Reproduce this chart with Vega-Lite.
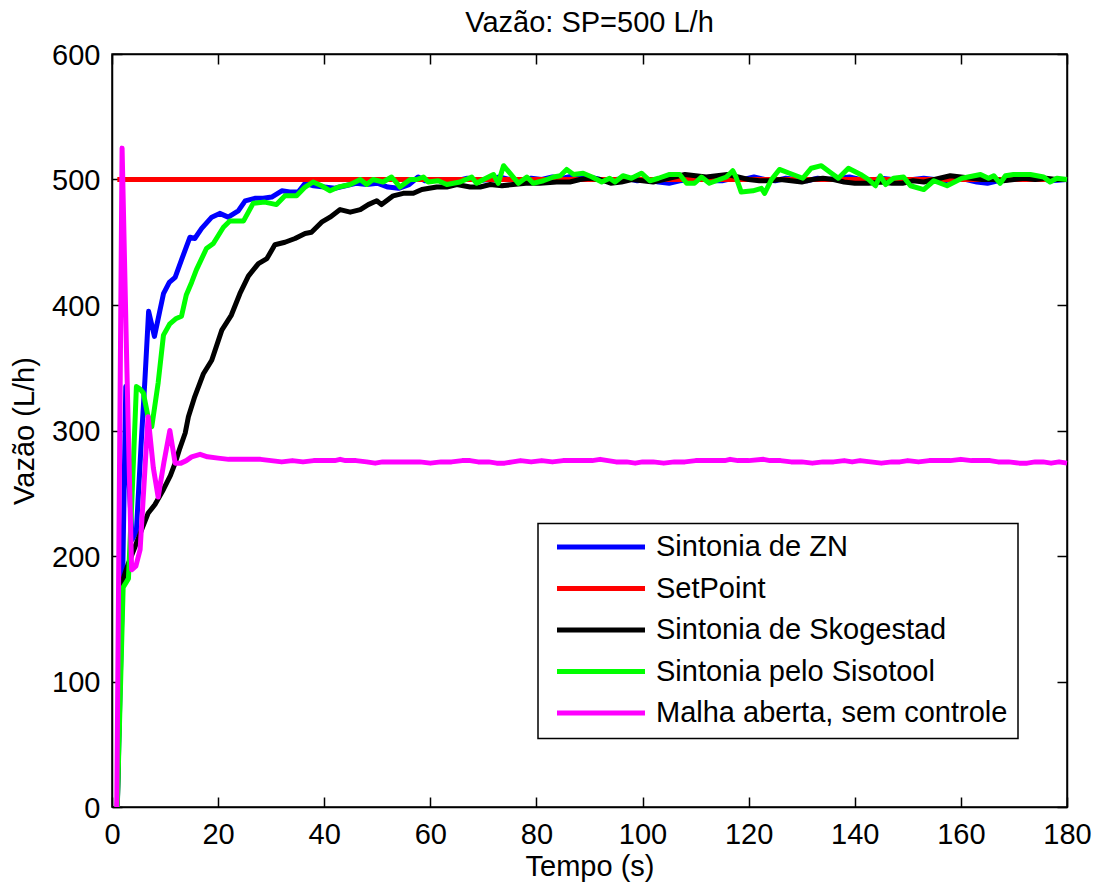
{
"$schema":"https://vega.github.io/schema/vega-lite/v6.json",
"width":955,"height":753,
"autosize":"none",
"padding":{"left":112,"top":54,"right":35,"bottom":84},
"background":"white",
"title":{"text":"Vazão: SP=500 L/h","fontSize":29,"font":"Liberation Sans","fontWeight":"normal","color":"black","baseline":"alphabetic","offset":-20,"anchor":"middle"},
"data":{"values":[
{"s":"Sintonia de ZN","t":1,"v":0},{"s":"Sintonia de ZN","t":2,"v":180},{"s":"Sintonia de ZN","t":2.6,"v":335},{"s":"Sintonia de ZN","t":3.2,"v":260},{"s":"Sintonia de ZN","t":3.8,"v":213},{"s":"Sintonia de ZN","t":4.6,"v":220},{"s":"Sintonia de ZN","t":5.5,"v":290},{"s":"Sintonia de ZN","t":6.2,"v":340},{"s":"Sintonia de ZN","t":6.9,"v":395},{"s":"Sintonia de ZN","t":8,"v":375},{"s":"Sintonia de ZN","t":9,"v":395},{"s":"Sintonia de ZN","t":9.7,"v":409},{"s":"Sintonia de ZN","t":10.8,"v":418},{"s":"Sintonia de ZN","t":11.9,"v":422},{"s":"Sintonia de ZN","t":13.1,"v":436},{"s":"Sintonia de ZN","t":14.7,"v":454},{"s":"Sintonia de ZN","t":15.6,"v":453},{"s":"Sintonia de ZN","t":16.9,"v":461},{"s":"Sintonia de ZN","t":18.8,"v":470},{"s":"Sintonia de ZN","t":20.3,"v":473},{"s":"Sintonia de ZN","t":21.9,"v":470},{"s":"Sintonia de ZN","t":23.8,"v":475},{"s":"Sintonia de ZN","t":25.1,"v":483},{"s":"Sintonia de ZN","t":26.9,"v":485},{"s":"Sintonia de ZN","t":28.5,"v":485},{"s":"Sintonia de ZN","t":30.1,"v":486},{"s":"Sintonia de ZN","t":32,"v":491},{"s":"Sintonia de ZN","t":33.5,"v":490},{"s":"Sintonia de ZN","t":35.1,"v":490},{"s":"Sintonia de ZN","t":36.4,"v":497},{"s":"Sintonia de ZN","t":38,"v":495},{"s":"Sintonia de ZN","t":40,"v":494},{"s":"Sintonia de ZN","t":42,"v":493},{"s":"Sintonia de ZN","t":44,"v":495},{"s":"Sintonia de ZN","t":46,"v":497},{"s":"Sintonia de ZN","t":48,"v":496},{"s":"Sintonia de ZN","t":50,"v":497},{"s":"Sintonia de ZN","t":52,"v":494},{"s":"Sintonia de ZN","t":54,"v":493},{"s":"Sintonia de ZN","t":56,"v":496},{"s":"Sintonia de ZN","t":57.7,"v":502},{"s":"Sintonia de ZN","t":59,"v":499},{"s":"Sintonia de ZN","t":61,"v":500},{"s":"Sintonia de ZN","t":63,"v":498},{"s":"Sintonia de ZN","t":65,"v":499},{"s":"Sintonia de ZN","t":67,"v":501},{"s":"Sintonia de ZN","t":69,"v":499},{"s":"Sintonia de ZN","t":71,"v":500},{"s":"Sintonia de ZN","t":73,"v":502},{"s":"Sintonia de ZN","t":75,"v":500},{"s":"Sintonia de ZN","t":77,"v":499},{"s":"Sintonia de ZN","t":79,"v":501},{"s":"Sintonia de ZN","t":81,"v":500},{"s":"Sintonia de ZN","t":83,"v":502},{"s":"Sintonia de ZN","t":85,"v":501},{"s":"Sintonia de ZN","t":87,"v":503},{"s":"Sintonia de ZN","t":89,"v":503},{"s":"Sintonia de ZN","t":91,"v":501},{"s":"Sintonia de ZN","t":93,"v":499},{"s":"Sintonia de ZN","t":95,"v":500},{"s":"Sintonia de ZN","t":97,"v":501},{"s":"Sintonia de ZN","t":99,"v":499},{"s":"Sintonia de ZN","t":101,"v":500},{"s":"Sintonia de ZN","t":103,"v":498},{"s":"Sintonia de ZN","t":105,"v":497},{"s":"Sintonia de ZN","t":107,"v":499},{"s":"Sintonia de ZN","t":109,"v":500},{"s":"Sintonia de ZN","t":111,"v":501},{"s":"Sintonia de ZN","t":113,"v":499},{"s":"Sintonia de ZN","t":115,"v":499},{"s":"Sintonia de ZN","t":117,"v":501},{"s":"Sintonia de ZN","t":119,"v":500},{"s":"Sintonia de ZN","t":121,"v":502},{"s":"Sintonia de ZN","t":123,"v":500},{"s":"Sintonia de ZN","t":125,"v":499},{"s":"Sintonia de ZN","t":127,"v":501},{"s":"Sintonia de ZN","t":129,"v":500},{"s":"Sintonia de ZN","t":131,"v":499},{"s":"Sintonia de ZN","t":133,"v":501},{"s":"Sintonia de ZN","t":135,"v":500},{"s":"Sintonia de ZN","t":137,"v":501},{"s":"Sintonia de ZN","t":139,"v":502},{"s":"Sintonia de ZN","t":141,"v":500},{"s":"Sintonia de ZN","t":143,"v":499},{"s":"Sintonia de ZN","t":145,"v":501},{"s":"Sintonia de ZN","t":147,"v":500},{"s":"Sintonia de ZN","t":149,"v":499},{"s":"Sintonia de ZN","t":151,"v":500},{"s":"Sintonia de ZN","t":153,"v":501},{"s":"Sintonia de ZN","t":155,"v":500},{"s":"Sintonia de ZN","t":157,"v":499},{"s":"Sintonia de ZN","t":159,"v":501},{"s":"Sintonia de ZN","t":161,"v":500},{"s":"Sintonia de ZN","t":163,"v":498},{"s":"Sintonia de ZN","t":165,"v":497},{"s":"Sintonia de ZN","t":167,"v":499},{"s":"Sintonia de ZN","t":169,"v":500},{"s":"Sintonia de ZN","t":171,"v":501},{"s":"Sintonia de ZN","t":173,"v":500},{"s":"Sintonia de ZN","t":175,"v":501},{"s":"Sintonia de ZN","t":177,"v":499},{"s":"Sintonia de ZN","t":180,"v":500},
{"s":"SetPoint","t":1,"v":500},{"s":"SetPoint","t":180,"v":500},
{"s":"Sintonia de Skogestad","t":1,"v":0},{"s":"Sintonia de Skogestad","t":1.8,"v":178},{"s":"Sintonia de Skogestad","t":3,"v":193},{"s":"Sintonia de Skogestad","t":4.3,"v":207},{"s":"Sintonia de Skogestad","t":5.5,"v":220},{"s":"Sintonia de Skogestad","t":6.8,"v":234},{"s":"Sintonia de Skogestad","t":8.1,"v":241},{"s":"Sintonia de Skogestad","t":9.7,"v":253},{"s":"Sintonia de Skogestad","t":11,"v":264},{"s":"Sintonia de Skogestad","t":11.9,"v":274},{"s":"Sintonia de Skogestad","t":12.8,"v":286},{"s":"Sintonia de Skogestad","t":13.8,"v":298},{"s":"Sintonia de Skogestad","t":14.4,"v":311},{"s":"Sintonia de Skogestad","t":15.6,"v":327},{"s":"Sintonia de Skogestad","t":17.2,"v":345},{"s":"Sintonia de Skogestad","t":18.8,"v":356},{"s":"Sintonia de Skogestad","t":20.7,"v":380},{"s":"Sintonia de Skogestad","t":22.5,"v":392},{"s":"Sintonia de Skogestad","t":24.1,"v":409},{"s":"Sintonia de Skogestad","t":25.7,"v":423},{"s":"Sintonia de Skogestad","t":27.6,"v":433},{"s":"Sintonia de Skogestad","t":29.2,"v":437},{"s":"Sintonia de Skogestad","t":30.7,"v":448},{"s":"Sintonia de Skogestad","t":32.6,"v":450},{"s":"Sintonia de Skogestad","t":34.5,"v":453},{"s":"Sintonia de Skogestad","t":36.4,"v":457},{"s":"Sintonia de Skogestad","t":37.6,"v":458},{"s":"Sintonia de Skogestad","t":39.5,"v":466},{"s":"Sintonia de Skogestad","t":41.1,"v":470},{"s":"Sintonia de Skogestad","t":43,"v":476},{"s":"Sintonia de Skogestad","t":44.9,"v":474},{"s":"Sintonia de Skogestad","t":46.8,"v":476},{"s":"Sintonia de Skogestad","t":48.3,"v":480},{"s":"Sintonia de Skogestad","t":49.9,"v":483},{"s":"Sintonia de Skogestad","t":50.8,"v":480},{"s":"Sintonia de Skogestad","t":53,"v":487},{"s":"Sintonia de Skogestad","t":54.9,"v":489},{"s":"Sintonia de Skogestad","t":56.8,"v":489},{"s":"Sintonia de Skogestad","t":58.4,"v":492},{"s":"Sintonia de Skogestad","t":61.2,"v":494},{"s":"Sintonia de Skogestad","t":63.1,"v":494},{"s":"Sintonia de Skogestad","t":65,"v":496},{"s":"Sintonia de Skogestad","t":67.5,"v":494},{"s":"Sintonia de Skogestad","t":69.4,"v":494},{"s":"Sintonia de Skogestad","t":71.3,"v":496},{"s":"Sintonia de Skogestad","t":73.5,"v":495},{"s":"Sintonia de Skogestad","t":75.6,"v":496},{"s":"Sintonia de Skogestad","t":78,"v":497},{"s":"Sintonia de Skogestad","t":80.7,"v":497},{"s":"Sintonia de Skogestad","t":83.8,"v":498},{"s":"Sintonia de Skogestad","t":86.3,"v":498},{"s":"Sintonia de Skogestad","t":88.2,"v":500},{"s":"Sintonia de Skogestad","t":90,"v":501},{"s":"Sintonia de Skogestad","t":92,"v":500},{"s":"Sintonia de Skogestad","t":94,"v":497},{"s":"Sintonia de Skogestad","t":96,"v":498},{"s":"Sintonia de Skogestad","t":98,"v":500},{"s":"Sintonia de Skogestad","t":100,"v":499},{"s":"Sintonia de Skogestad","t":102,"v":498},{"s":"Sintonia de Skogestad","t":104,"v":500},{"s":"Sintonia de Skogestad","t":106,"v":502},{"s":"Sintonia de Skogestad","t":108,"v":504},{"s":"Sintonia de Skogestad","t":110,"v":503},{"s":"Sintonia de Skogestad","t":112,"v":502},{"s":"Sintonia de Skogestad","t":114,"v":503},{"s":"Sintonia de Skogestad","t":116,"v":504},{"s":"Sintonia de Skogestad","t":118,"v":502},{"s":"Sintonia de Skogestad","t":120,"v":500},{"s":"Sintonia de Skogestad","t":122,"v":499},{"s":"Sintonia de Skogestad","t":124,"v":499},{"s":"Sintonia de Skogestad","t":126,"v":500},{"s":"Sintonia de Skogestad","t":128,"v":499},{"s":"Sintonia de Skogestad","t":130,"v":498},{"s":"Sintonia de Skogestad","t":132,"v":500},{"s":"Sintonia de Skogestad","t":134,"v":501},{"s":"Sintonia de Skogestad","t":136,"v":500},{"s":"Sintonia de Skogestad","t":138,"v":498},{"s":"Sintonia de Skogestad","t":140,"v":497},{"s":"Sintonia de Skogestad","t":142.6,"v":497},{"s":"Sintonia de Skogestad","t":145,"v":498},{"s":"Sintonia de Skogestad","t":147,"v":497},{"s":"Sintonia de Skogestad","t":149,"v":497},{"s":"Sintonia de Skogestad","t":151,"v":499},{"s":"Sintonia de Skogestad","t":153,"v":498},{"s":"Sintonia de Skogestad","t":155,"v":500},{"s":"Sintonia de Skogestad","t":157,"v":502},{"s":"Sintonia de Skogestad","t":158,"v":503},{"s":"Sintonia de Skogestad","t":160,"v":502},{"s":"Sintonia de Skogestad","t":162,"v":501},{"s":"Sintonia de Skogestad","t":164,"v":500},{"s":"Sintonia de Skogestad","t":166,"v":500},{"s":"Sintonia de Skogestad","t":168,"v":499},{"s":"Sintonia de Skogestad","t":170,"v":500},{"s":"Sintonia de Skogestad","t":172,"v":501},{"s":"Sintonia de Skogestad","t":174,"v":500},{"s":"Sintonia de Skogestad","t":176,"v":501},{"s":"Sintonia de Skogestad","t":178,"v":500},{"s":"Sintonia de Skogestad","t":180,"v":500},
{"s":"Sintonia pelo Sisotool","t":1,"v":0},{"s":"Sintonia pelo Sisotool","t":2.1,"v":175},{"s":"Sintonia pelo Sisotool","t":3.1,"v":182},{"s":"Sintonia pelo Sisotool","t":3.8,"v":250},{"s":"Sintonia pelo Sisotool","t":4.6,"v":335},{"s":"Sintonia pelo Sisotool","t":5.3,"v":333},{"s":"Sintonia pelo Sisotool","t":5.9,"v":330},{"s":"Sintonia pelo Sisotool","t":6.8,"v":311},{"s":"Sintonia pelo Sisotool","t":7.5,"v":303},{"s":"Sintonia pelo Sisotool","t":8.7,"v":338},{"s":"Sintonia pelo Sisotool","t":9.7,"v":376},{"s":"Sintonia pelo Sisotool","t":10.9,"v":385},{"s":"Sintonia pelo Sisotool","t":12,"v":389},{"s":"Sintonia pelo Sisotool","t":13.1,"v":391},{"s":"Sintonia pelo Sisotool","t":14,"v":408},{"s":"Sintonia pelo Sisotool","t":15,"v":418},{"s":"Sintonia pelo Sisotool","t":15.9,"v":428},{"s":"Sintonia pelo Sisotool","t":17.8,"v":445},{"s":"Sintonia pelo Sisotool","t":19.1,"v":449},{"s":"Sintonia pelo Sisotool","t":21,"v":462},{"s":"Sintonia pelo Sisotool","t":22.2,"v":467},{"s":"Sintonia pelo Sisotool","t":24.8,"v":467},{"s":"Sintonia pelo Sisotool","t":26.6,"v":481},{"s":"Sintonia pelo Sisotool","t":28.8,"v":482},{"s":"Sintonia pelo Sisotool","t":31,"v":480},{"s":"Sintonia pelo Sisotool","t":32.6,"v":487},{"s":"Sintonia pelo Sisotool","t":34.8,"v":487},{"s":"Sintonia pelo Sisotool","t":36.4,"v":494},{"s":"Sintonia pelo Sisotool","t":37.9,"v":498},{"s":"Sintonia pelo Sisotool","t":39.5,"v":495},{"s":"Sintonia pelo Sisotool","t":41.1,"v":491},{"s":"Sintonia pelo Sisotool","t":42.7,"v":494},{"s":"Sintonia pelo Sisotool","t":44.9,"v":496},{"s":"Sintonia pelo Sisotool","t":46.8,"v":500},{"s":"Sintonia pelo Sisotool","t":48,"v":496},{"s":"Sintonia pelo Sisotool","t":49.2,"v":500},{"s":"Sintonia pelo Sisotool","t":51.1,"v":498},{"s":"Sintonia pelo Sisotool","t":52.7,"v":502},{"s":"Sintonia pelo Sisotool","t":54.3,"v":494},{"s":"Sintonia pelo Sisotool","t":56.2,"v":500},{"s":"Sintonia pelo Sisotool","t":57.4,"v":500},{"s":"Sintonia pelo Sisotool","t":58.7,"v":502},{"s":"Sintonia pelo Sisotool","t":59.6,"v":498},{"s":"Sintonia pelo Sisotool","t":61.5,"v":499},{"s":"Sintonia pelo Sisotool","t":63.1,"v":496},{"s":"Sintonia pelo Sisotool","t":65.6,"v":498},{"s":"Sintonia pelo Sisotool","t":67.8,"v":502},{"s":"Sintonia pelo Sisotool","t":68.7,"v":497},{"s":"Sintonia pelo Sisotool","t":70,"v":500},{"s":"Sintonia pelo Sisotool","t":71.9,"v":504},{"s":"Sintonia pelo Sisotool","t":72.8,"v":497},{"s":"Sintonia pelo Sisotool","t":73.8,"v":511},{"s":"Sintonia pelo Sisotool","t":75,"v":505},{"s":"Sintonia pelo Sisotool","t":76.6,"v":497},{"s":"Sintonia pelo Sisotool","t":78.2,"v":502},{"s":"Sintonia pelo Sisotool","t":79.4,"v":497},{"s":"Sintonia pelo Sisotool","t":81.3,"v":499},{"s":"Sintonia pelo Sisotool","t":83.2,"v":502},{"s":"Sintonia pelo Sisotool","t":84.5,"v":503},{"s":"Sintonia pelo Sisotool","t":85.7,"v":508},{"s":"Sintonia pelo Sisotool","t":87,"v":504},{"s":"Sintonia pelo Sisotool","t":88.8,"v":505},{"s":"Sintonia pelo Sisotool","t":90.5,"v":502},{"s":"Sintonia pelo Sisotool","t":92.3,"v":498},{"s":"Sintonia pelo Sisotool","t":93.8,"v":501},{"s":"Sintonia pelo Sisotool","t":94.8,"v":498},{"s":"Sintonia pelo Sisotool","t":96.3,"v":503},{"s":"Sintonia pelo Sisotool","t":97.9,"v":501},{"s":"Sintonia pelo Sisotool","t":99.8,"v":505},{"s":"Sintonia pelo Sisotool","t":101.4,"v":499},{"s":"Sintonia pelo Sisotool","t":103,"v":501},{"s":"Sintonia pelo Sisotool","t":105.1,"v":504},{"s":"Sintonia pelo Sisotool","t":107,"v":504},{"s":"Sintonia pelo Sisotool","t":108.3,"v":497},{"s":"Sintonia pelo Sisotool","t":109.8,"v":497},{"s":"Sintonia pelo Sisotool","t":111.1,"v":502},{"s":"Sintonia pelo Sisotool","t":112.6,"v":497},{"s":"Sintonia pelo Sisotool","t":114.5,"v":500},{"s":"Sintonia pelo Sisotool","t":115.8,"v":502},{"s":"Sintonia pelo Sisotool","t":117,"v":507},{"s":"Sintonia pelo Sisotool","t":117.6,"v":502},{"s":"Sintonia pelo Sisotool","t":118.6,"v":490},{"s":"Sintonia pelo Sisotool","t":120.8,"v":491},{"s":"Sintonia pelo Sisotool","t":122.4,"v":493},{"s":"Sintonia pelo Sisotool","t":123,"v":489},{"s":"Sintonia pelo Sisotool","t":124.3,"v":500},{"s":"Sintonia pelo Sisotool","t":125.8,"v":508},{"s":"Sintonia pelo Sisotool","t":127.7,"v":505},{"s":"Sintonia pelo Sisotool","t":130.2,"v":501},{"s":"Sintonia pelo Sisotool","t":131.8,"v":509},{"s":"Sintonia pelo Sisotool","t":133.7,"v":511},{"s":"Sintonia pelo Sisotool","t":135.6,"v":505},{"s":"Sintonia pelo Sisotool","t":136.9,"v":501},{"s":"Sintonia pelo Sisotool","t":138.8,"v":509},{"s":"Sintonia pelo Sisotool","t":141.1,"v":504},{"s":"Sintonia pelo Sisotool","t":142.6,"v":500},{"s":"Sintonia pelo Sisotool","t":143.9,"v":495},{"s":"Sintonia pelo Sisotool","t":144.8,"v":503},{"s":"Sintonia pelo Sisotool","t":145.8,"v":496},{"s":"Sintonia pelo Sisotool","t":147.3,"v":501},{"s":"Sintonia pelo Sisotool","t":149.2,"v":502},{"s":"Sintonia pelo Sisotool","t":150.5,"v":495},{"s":"Sintonia pelo Sisotool","t":153,"v":492},{"s":"Sintonia pelo Sisotool","t":154.9,"v":499},{"s":"Sintonia pelo Sisotool","t":157.4,"v":495},{"s":"Sintonia pelo Sisotool","t":160.2,"v":501},{"s":"Sintonia pelo Sisotool","t":163.7,"v":504},{"s":"Sintonia pelo Sisotool","t":165.2,"v":501},{"s":"Sintonia pelo Sisotool","t":166.2,"v":503},{"s":"Sintonia pelo Sisotool","t":167.4,"v":497},{"s":"Sintonia pelo Sisotool","t":168.4,"v":503},{"s":"Sintonia pelo Sisotool","t":169.9,"v":504},{"s":"Sintonia pelo Sisotool","t":173.1,"v":504},{"s":"Sintonia pelo Sisotool","t":175.6,"v":502},{"s":"Sintonia pelo Sisotool","t":176.8,"v":498},{"s":"Sintonia pelo Sisotool","t":178.1,"v":501},{"s":"Sintonia pelo Sisotool","t":180,"v":500},
{"s":"Malha aberta, sem controle","t":0.9,"v":0},{"s":"Malha aberta, sem controle","t":1.9,"v":525},{"s":"Malha aberta, sem controle","t":2.8,"v":350},{"s":"Malha aberta, sem controle","t":3.7,"v":189},{"s":"Malha aberta, sem controle","t":4.5,"v":192},{"s":"Malha aberta, sem controle","t":5.3,"v":205},{"s":"Malha aberta, sem controle","t":6.8,"v":311},{"s":"Malha aberta, sem controle","t":7.8,"v":270},{"s":"Malha aberta, sem controle","t":8.7,"v":247},{"s":"Malha aberta, sem controle","t":9.8,"v":275},{"s":"Malha aberta, sem controle","t":10.9,"v":300},{"s":"Malha aberta, sem controle","t":11.9,"v":274},{"s":"Malha aberta, sem controle","t":13,"v":274},{"s":"Malha aberta, sem controle","t":14,"v":276},{"s":"Malha aberta, sem controle","t":15,"v":279},{"s":"Malha aberta, sem controle","t":16.6,"v":281},{"s":"Malha aberta, sem controle","t":18,"v":279},{"s":"Malha aberta, sem controle","t":20,"v":278},{"s":"Malha aberta, sem controle","t":22,"v":277},{"s":"Malha aberta, sem controle","t":24,"v":277},{"s":"Malha aberta, sem controle","t":26,"v":277},{"s":"Malha aberta, sem controle","t":28,"v":277},{"s":"Malha aberta, sem controle","t":30,"v":276},{"s":"Malha aberta, sem controle","t":32,"v":275},{"s":"Malha aberta, sem controle","t":34,"v":276},{"s":"Malha aberta, sem controle","t":36,"v":275},{"s":"Malha aberta, sem controle","t":38,"v":276},{"s":"Malha aberta, sem controle","t":40,"v":276},{"s":"Malha aberta, sem controle","t":42,"v":276},{"s":"Malha aberta, sem controle","t":43,"v":277},{"s":"Malha aberta, sem controle","t":44,"v":276},{"s":"Malha aberta, sem controle","t":46,"v":276},{"s":"Malha aberta, sem controle","t":48,"v":275},{"s":"Malha aberta, sem controle","t":49.6,"v":274},{"s":"Malha aberta, sem controle","t":51,"v":275},{"s":"Malha aberta, sem controle","t":52,"v":275},{"s":"Malha aberta, sem controle","t":54,"v":275},{"s":"Malha aberta, sem controle","t":56,"v":275},{"s":"Malha aberta, sem controle","t":58,"v":275},{"s":"Malha aberta, sem controle","t":60,"v":274},{"s":"Malha aberta, sem controle","t":62,"v":275},{"s":"Malha aberta, sem controle","t":64,"v":275},{"s":"Malha aberta, sem controle","t":66,"v":276},{"s":"Malha aberta, sem controle","t":67.5,"v":276},{"s":"Malha aberta, sem controle","t":69,"v":275},{"s":"Malha aberta, sem controle","t":71,"v":275},{"s":"Malha aberta, sem controle","t":72.5,"v":274},{"s":"Malha aberta, sem controle","t":74,"v":274},{"s":"Malha aberta, sem controle","t":75.5,"v":275},{"s":"Malha aberta, sem controle","t":77,"v":276},{"s":"Malha aberta, sem controle","t":79,"v":275},{"s":"Malha aberta, sem controle","t":81,"v":276},{"s":"Malha aberta, sem controle","t":83,"v":275},{"s":"Malha aberta, sem controle","t":85,"v":276},{"s":"Malha aberta, sem controle","t":87,"v":276},{"s":"Malha aberta, sem controle","t":89,"v":276},{"s":"Malha aberta, sem controle","t":90.5,"v":276},{"s":"Malha aberta, sem controle","t":92,"v":277},{"s":"Malha aberta, sem controle","t":93.5,"v":276},{"s":"Malha aberta, sem controle","t":95,"v":275},{"s":"Malha aberta, sem controle","t":97,"v":275},{"s":"Malha aberta, sem controle","t":98.6,"v":274},{"s":"Malha aberta, sem controle","t":100,"v":275},{"s":"Malha aberta, sem controle","t":102,"v":275},{"s":"Malha aberta, sem controle","t":104,"v":274},{"s":"Malha aberta, sem controle","t":106,"v":275},{"s":"Malha aberta, sem controle","t":108,"v":275},{"s":"Malha aberta, sem controle","t":110,"v":276},{"s":"Malha aberta, sem controle","t":112,"v":276},{"s":"Malha aberta, sem controle","t":114,"v":276},{"s":"Malha aberta, sem controle","t":115.5,"v":276},{"s":"Malha aberta, sem controle","t":116.5,"v":277},{"s":"Malha aberta, sem controle","t":118,"v":276},{"s":"Malha aberta, sem controle","t":120,"v":276},{"s":"Malha aberta, sem controle","t":122.8,"v":277},{"s":"Malha aberta, sem controle","t":124,"v":276},{"s":"Malha aberta, sem controle","t":126,"v":276},{"s":"Malha aberta, sem controle","t":128,"v":275},{"s":"Malha aberta, sem controle","t":130,"v":275},{"s":"Malha aberta, sem controle","t":132,"v":274},{"s":"Malha aberta, sem controle","t":134,"v":275},{"s":"Malha aberta, sem controle","t":136,"v":275},{"s":"Malha aberta, sem controle","t":138,"v":276},{"s":"Malha aberta, sem controle","t":139.5,"v":275},{"s":"Malha aberta, sem controle","t":141,"v":276},{"s":"Malha aberta, sem controle","t":143,"v":275},{"s":"Malha aberta, sem controle","t":145,"v":274},{"s":"Malha aberta, sem controle","t":147,"v":275},{"s":"Malha aberta, sem controle","t":148.5,"v":275},{"s":"Malha aberta, sem controle","t":150,"v":276},{"s":"Malha aberta, sem controle","t":152,"v":275},{"s":"Malha aberta, sem controle","t":154,"v":276},{"s":"Malha aberta, sem controle","t":156,"v":276},{"s":"Malha aberta, sem controle","t":158,"v":276},{"s":"Malha aberta, sem controle","t":160,"v":277},{"s":"Malha aberta, sem controle","t":162,"v":276},{"s":"Malha aberta, sem controle","t":164,"v":276},{"s":"Malha aberta, sem controle","t":165.5,"v":276},{"s":"Malha aberta, sem controle","t":167,"v":275},{"s":"Malha aberta, sem controle","t":169,"v":275},{"s":"Malha aberta, sem controle","t":171,"v":274},{"s":"Malha aberta, sem controle","t":172.5,"v":274},{"s":"Malha aberta, sem controle","t":174,"v":275},{"s":"Malha aberta, sem controle","t":175.5,"v":275},{"s":"Malha aberta, sem controle","t":177,"v":274},{"s":"Malha aberta, sem controle","t":178.5,"v":275},{"s":"Malha aberta, sem controle","t":180,"v":274}
]},
"layer":[
{"encoding":{
  "x":{"field":"t","type":"quantitative","scale":{"domain":[0,180],"nice":false,"zero":false},
       "axis":{"title":"Tempo (s)","values":[0,20,40,60,80,100,120,140,160,180],"tickSize":-10,"labelPadding":23,"titlePadding":3,"labelFlush":false,"labelOverlap":false}},
  "y":{"field":"v","type":"quantitative","scale":{"domain":[0,600],"nice":false},
       "axis":{"title":"Vazão (L/h)","values":[0,100,200,300,400,500,600],"tickSize":-10,"labelPadding":22,"labelOffset":1,"titlePadding":12,"labelFlush":false,"labelOverlap":false}},
  "color":{"field":"s","type":"nominal",
       "scale":{"domain":["Sintonia de ZN","SetPoint","Sintonia de Skogestad","Sintonia pelo Sisotool","Malha aberta, sem controle"],
                "range":["#0000ff","#ff0000","#000000","#00ff00","#ff00ff"]},
       "legend":{"title":null,"orient":"none","legendX":426,"legendY":469.5,"symbolType":"stroke","symbolSize":7744,"symbolStrokeWidth":5,"symbolOffset":6,"labelFontSize":29,"labelFont":"Liberation Sans","labelColor":"black","labelOffset":8.5,"labelLimit":1000,"padding":10.5,"rowPadding":12.5,"clipHeight":26,"strokeColor":"black","fillColor":"white","cornerRadius":0}}
 },
 "layer":[
  {"transform":[{"filter":"datum.s === 'Sintonia de ZN'"}],"mark":{"type":"line","strokeWidth":5,"strokeJoin":"round"}},
  {"transform":[{"filter":"datum.s === 'SetPoint'"}],"mark":{"type":"line","strokeWidth":5,"strokeJoin":"round"}},
  {"transform":[{"filter":"datum.s === 'Sintonia de Skogestad'"}],"mark":{"type":"line","strokeWidth":5,"strokeJoin":"round"}},
  {"transform":[{"filter":"datum.s === 'Sintonia pelo Sisotool'"}],"mark":{"type":"line","strokeWidth":5,"strokeJoin":"round"}},
  {"transform":[{"filter":"datum.s === 'Malha aberta, sem controle'"}],"mark":{"type":"line","strokeWidth":5,"strokeJoin":"round"}}
 ]
},
{"transform":[{"filter":"datum.s === 'SetPoint'"}],
 "mark":{"type":"line","opacity":0},
 "encoding":{
  "x":{"field":"t","type":"quantitative","scale":{"domain":[0,180],"nice":false,"zero":false},
       "axis":{"orient":"top","title":null,"labels":false,"values":[0,20,40,60,80,100,120,140,160,180],"tickSize":-10}},
  "y":{"field":"v","type":"quantitative","scale":{"domain":[0,600],"nice":false},
       "axis":{"orient":"right","title":null,"labels":false,"values":[0,100,200,300,400,500,600],"tickSize":-10}}
 }}
],
"resolve":{"axis":{"x":"independent","y":"independent"}},
"config":{
 "font":"Liberation Sans",
 "view":{"stroke":"black","strokeWidth":1.5},
 "legend":{"strokeWidth":1.5},
 "axis":{"labelFont":"Liberation Sans","labelFontSize":29,"titleFont":"Liberation Sans","titleFontSize":29,"titleFontWeight":"normal","labelColor":"black","titleColor":"black","domainColor":"black","tickColor":"black","domainWidth":1.5,"tickWidth":1.5,"grid":false}
}
}
